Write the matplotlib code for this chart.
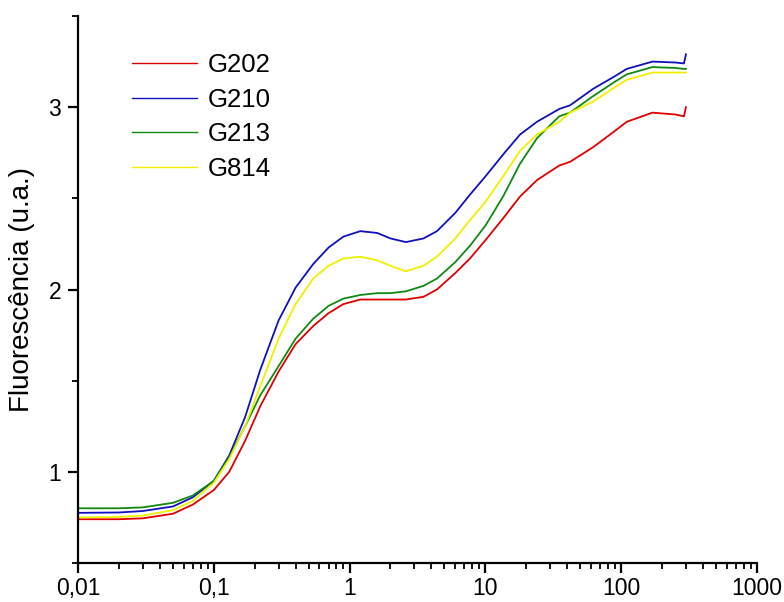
import numpy as np
import matplotlib
matplotlib.use('Agg')
import matplotlib.pyplot as plt
from matplotlib.ticker import LogLocator, NullFormatter, MultipleLocator

plt.rcParams['font.family'] = ['Liberation Sans', 'DejaVu Sans']

# time (ms) - same grid for every sample
tempo = [0.01, 0.02, 0.03, 0.05, 0.07, 0.1, 0.13, 0.17, 0.22, 0.3, 0.4, 0.54,
         0.7, 0.9, 1.2, 1.6, 2.0, 2.6, 3.5, 4.4, 6, 7.7, 10, 13.5, 18, 24,
         35, 42, 62, 90, 110, 170, 250, 290, 300]

g202 = [0.74, 0.74, 0.745, 0.77, 0.82, 0.90, 1.00, 1.17, 1.36, 1.55, 1.70, 1.80,
        1.87, 1.92, 1.945, 1.945, 1.945, 1.945, 1.96, 2.0, 2.09, 2.17, 2.27, 2.39,
        2.51, 2.60, 2.68, 2.70, 2.78, 2.87, 2.92, 2.97, 2.96, 2.95, 3.0]
g210 = [0.775, 0.777, 0.785, 0.81, 0.86, 0.95, 1.09, 1.30, 1.56, 1.83, 2.01, 2.14,
        2.23, 2.29, 2.32, 2.31, 2.28, 2.26, 2.28, 2.32, 2.42, 2.52, 2.62, 2.74,
        2.85, 2.92, 2.99, 3.01, 3.10, 3.17, 3.21, 3.25, 3.245, 3.24, 3.29]
g213 = [0.80, 0.80, 0.805, 0.83, 0.87, 0.95, 1.08, 1.25, 1.42, 1.58, 1.73, 1.84,
        1.91, 1.95, 1.97, 1.98, 1.98, 1.99, 2.02, 2.06, 2.15, 2.24, 2.35, 2.51,
        2.69, 2.83, 2.95, 2.97, 3.06, 3.14, 3.18, 3.22, 3.215, 3.21, 3.21]
g814 = [0.75, 0.752, 0.76, 0.79, 0.84, 0.94, 1.07, 1.25, 1.47, 1.73, 1.92, 2.06,
        2.13, 2.17, 2.18, 2.16, 2.13, 2.10, 2.13, 2.18, 2.28, 2.38, 2.48, 2.62,
        2.76, 2.85, 2.92, 2.97, 3.03, 3.11, 3.15, 3.19, 3.19, 3.19, 3.19]

nomes = ['G202', 'G210', 'G213', 'G814']
cores = ['#e00000', '#1010c0', '#108a10', '#f0f000']

fig = plt.figure(figsize=(7.84, 6.02), dpi=100)
ax = fig.add_axes([0.0995, 0.0648, 0.866, 0.9086])

for y, nome, cor in zip([g202, g210, g213, g814], nomes, cores):
    ax.plot(tempo, y, color=cor, lw=1.3, label=nome)

ax.set_xscale('log')
ax.set_xlim(0.01, 1000)
ax.set_ylim(0.5, 3.5)

ax.set_xticks([0.01, 0.1, 1, 10, 100, 1000])
ax.set_xticklabels(['0,01', '0,1', '1', '10', '100', '1000'])
ax.xaxis.set_minor_locator(LogLocator(base=10, subs=np.arange(2, 10)))
ax.xaxis.set_minor_formatter(NullFormatter())
ax.set_yticks([1, 2, 3])
ax.set_yticklabels(['1', '2', '3'])
ax.yaxis.set_minor_locator(MultipleLocator(0.5))

for s in ['top', 'right']:
    ax.spines[s].set_visible(False)
for s in ['left', 'bottom']:
    ax.spines[s].set_linewidth(1.6)

ax.tick_params(which='major', direction='out', length=7, width=1.6, labelsize=16.5, pad=5)
ax.tick_params(axis='x', which='major', pad=3)
ax.tick_params(which='minor', direction='out', length=4, width=1.3)

ax.set_ylabel('Fluorescência (u.a.)', fontsize=20, labelpad=10)

leg = ax.legend(loc='upper left', bbox_to_anchor=(0.045, 0.975), frameon=False,
                fontsize=18.5, handlelength=2.55, handletextpad=0.4, labelspacing=0.42)
for h in leg.get_lines():
    h.set_linewidth(1.0)

plt.savefig('out.png', dpi=100)
